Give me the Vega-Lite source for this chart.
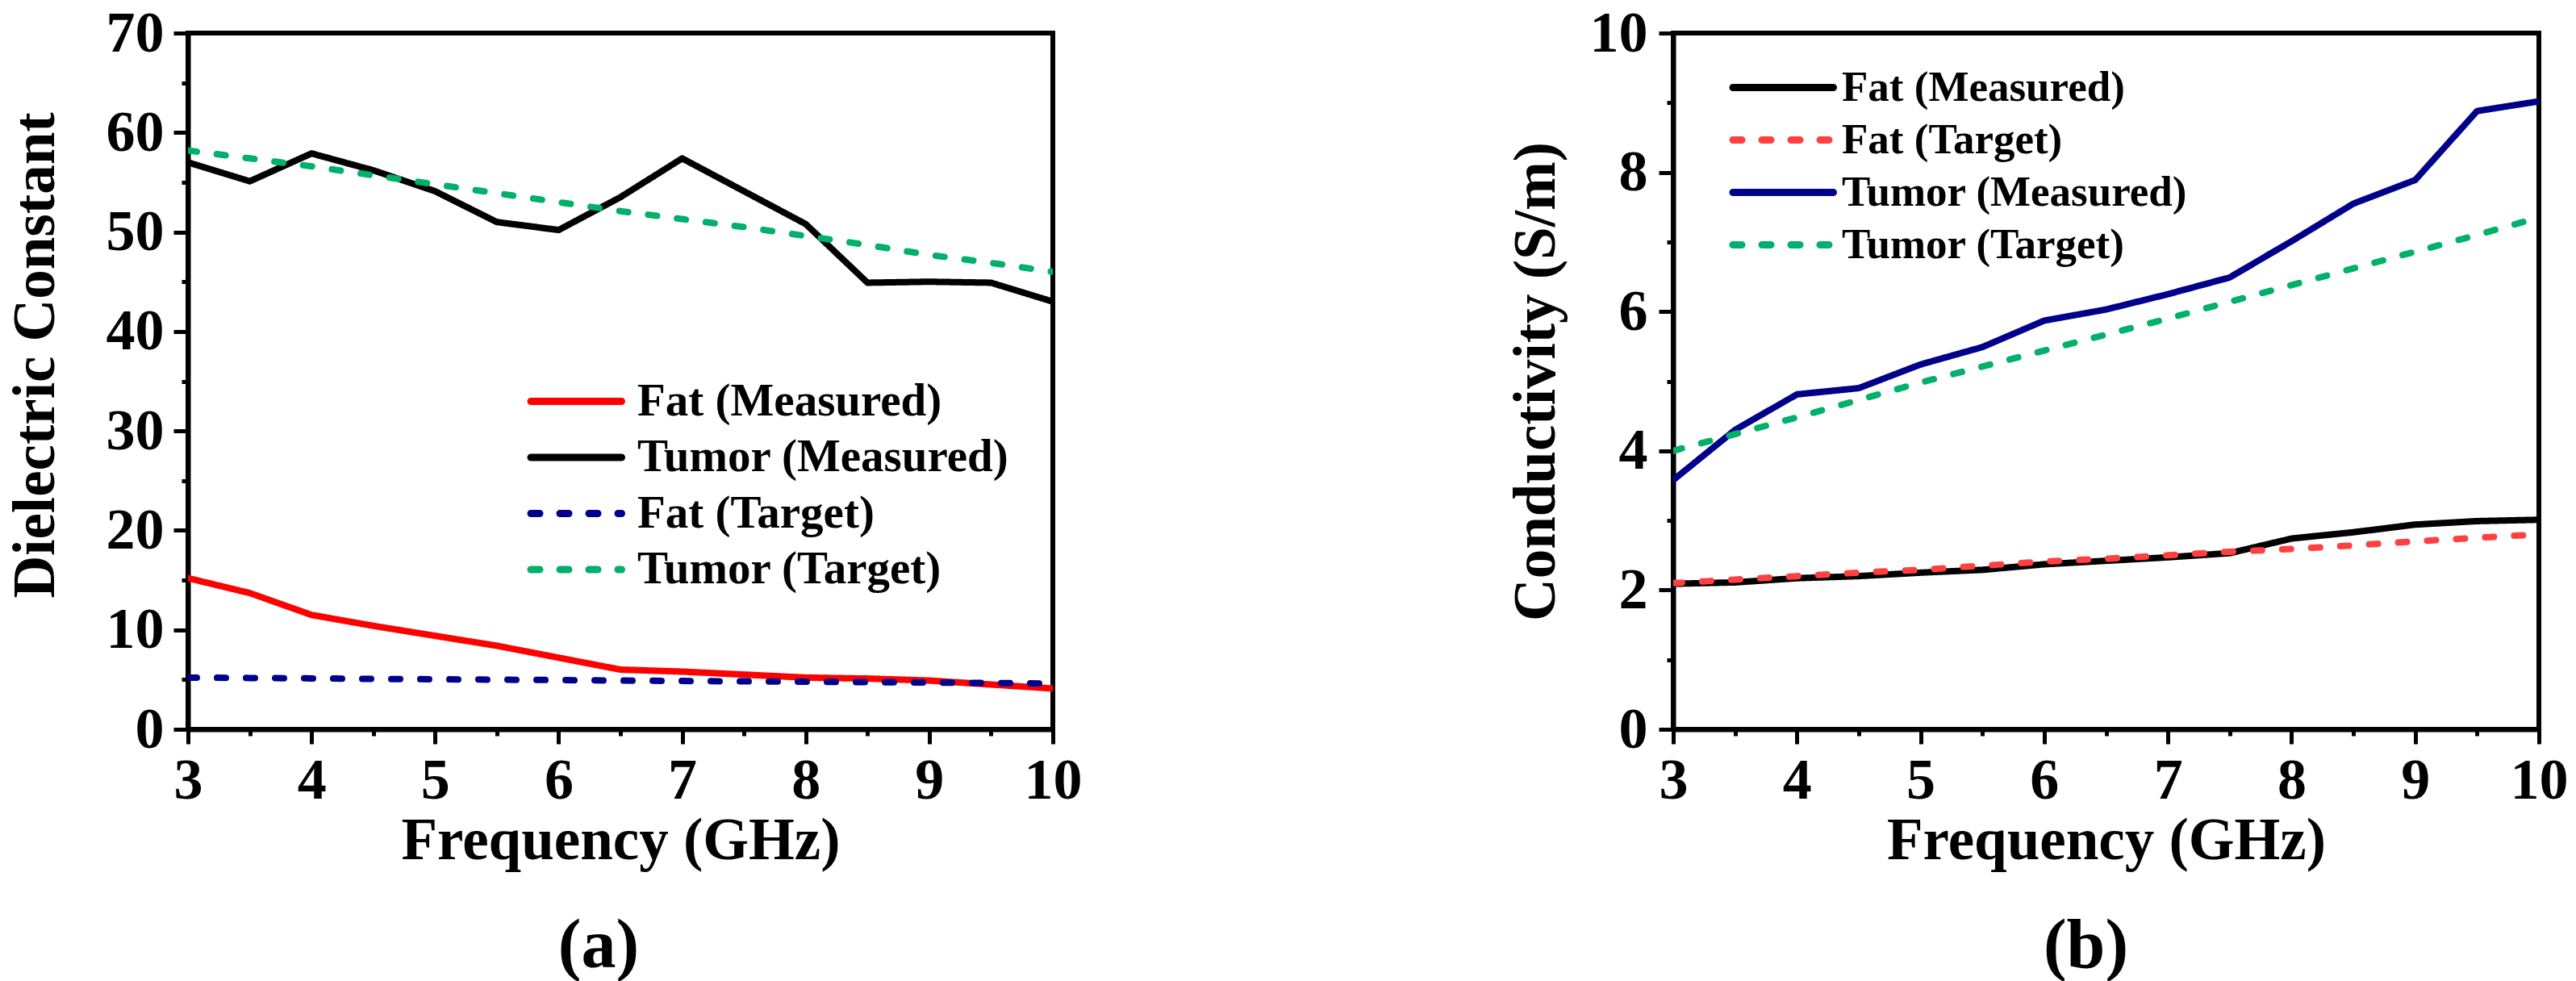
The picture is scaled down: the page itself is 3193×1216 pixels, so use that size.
{
  "$schema": "https://vega.github.io/schema/vega-lite/v6.json",
  "background": "white",
  "padding": {"left": 5, "top": 2, "right": 0, "bottom": 0},
  "config": {
    "font": "Liberation Serif",
    "view": {"stroke": "black", "strokeWidth": 6},
    "axis": {
      "grid": false,
      "domainColor": "black",
      "domainWidth": 6,
      "tickColor": "black",
      "tickWidth": 5,
      "labelFont": "Liberation Serif",
      "labelFontSize": 72,
      "labelFontWeight": "bold",
      "labelColor": "black",
      "labelFlush": false,
      "labelOverlap": false,
      "labelBound": false,
      "titleFont": "Liberation Serif",
      "titleFontSize": 73,
      "titleFontWeight": "bold",
      "titleColor": "black"
    },
    "legend": {
      "orient": "none",
      "padding": 0,
      "labelFont": "Liberation Serif",
      "labelFontWeight": "bold",
      "labelColor": "black",
      "labelLimit": 0,
      "symbolStrokeWidth": 9,
      "symbolSize": 900
    },
    "title": {"font": "Liberation Serif", "fontWeight": "bold", "color": "black", "fontSize": 86}
  },
  "datasets": {
    "dielectric": [
      {"freq": 3, "value": 15.2, "series": "Fat (Measured)"},
      {"freq": 3.5, "value": 13.7, "series": "Fat (Measured)"},
      {"freq": 4, "value": 11.5, "series": "Fat (Measured)"},
      {"freq": 4.5, "value": 10.4, "series": "Fat (Measured)"},
      {"freq": 5, "value": 9.4, "series": "Fat (Measured)"},
      {"freq": 5.5, "value": 8.4, "series": "Fat (Measured)"},
      {"freq": 6, "value": 7.2, "series": "Fat (Measured)"},
      {"freq": 6.5, "value": 6.0, "series": "Fat (Measured)"},
      {"freq": 7, "value": 5.8, "series": "Fat (Measured)"},
      {"freq": 7.5, "value": 5.5, "series": "Fat (Measured)"},
      {"freq": 8, "value": 5.2, "series": "Fat (Measured)"},
      {"freq": 8.5, "value": 5.1, "series": "Fat (Measured)"},
      {"freq": 9, "value": 4.9, "series": "Fat (Measured)"},
      {"freq": 9.5, "value": 4.5, "series": "Fat (Measured)"},
      {"freq": 10, "value": 4.1, "series": "Fat (Measured)"},
      {"freq": 3, "value": 57.0, "series": "Tumor (Measured)"},
      {"freq": 3.5, "value": 55.1, "series": "Tumor (Measured)"},
      {"freq": 4, "value": 57.9, "series": "Tumor (Measured)"},
      {"freq": 4.5, "value": 56.2, "series": "Tumor (Measured)"},
      {"freq": 5, "value": 54.1, "series": "Tumor (Measured)"},
      {"freq": 5.5, "value": 51.0, "series": "Tumor (Measured)"},
      {"freq": 6, "value": 50.2, "series": "Tumor (Measured)"},
      {"freq": 6.5, "value": 53.5, "series": "Tumor (Measured)"},
      {"freq": 7, "value": 57.4, "series": "Tumor (Measured)"},
      {"freq": 7.5, "value": 54.1, "series": "Tumor (Measured)"},
      {"freq": 8, "value": 50.8, "series": "Tumor (Measured)"},
      {"freq": 8.5, "value": 44.9, "series": "Tumor (Measured)"},
      {"freq": 9, "value": 45.0, "series": "Tumor (Measured)"},
      {"freq": 9.5, "value": 44.9, "series": "Tumor (Measured)"},
      {"freq": 10, "value": 43.0, "series": "Tumor (Measured)"},
      {"freq": 3, "value": 5.2, "series": "Fat (Target)"},
      {"freq": 3.5, "value": 5.16, "series": "Fat (Target)"},
      {"freq": 4, "value": 5.12, "series": "Fat (Target)"},
      {"freq": 4.5, "value": 5.07, "series": "Fat (Target)"},
      {"freq": 5, "value": 5.03, "series": "Fat (Target)"},
      {"freq": 5.5, "value": 4.99, "series": "Fat (Target)"},
      {"freq": 6, "value": 4.95, "series": "Fat (Target)"},
      {"freq": 6.5, "value": 4.9, "series": "Fat (Target)"},
      {"freq": 7, "value": 4.86, "series": "Fat (Target)"},
      {"freq": 7.5, "value": 4.82, "series": "Fat (Target)"},
      {"freq": 8, "value": 4.78, "series": "Fat (Target)"},
      {"freq": 8.5, "value": 4.74, "series": "Fat (Target)"},
      {"freq": 9, "value": 4.7, "series": "Fat (Target)"},
      {"freq": 9.5, "value": 4.65, "series": "Fat (Target)"},
      {"freq": 10, "value": 4.6, "series": "Fat (Target)"},
      {"freq": 3, "value": 58.2, "series": "Tumor (Target)"},
      {"freq": 3.5, "value": 57.4, "series": "Tumor (Target)"},
      {"freq": 4, "value": 56.6, "series": "Tumor (Target)"},
      {"freq": 4.5, "value": 55.7, "series": "Tumor (Target)"},
      {"freq": 5, "value": 54.8, "series": "Tumor (Target)"},
      {"freq": 5.5, "value": 53.9, "series": "Tumor (Target)"},
      {"freq": 6, "value": 53.0, "series": "Tumor (Target)"},
      {"freq": 6.5, "value": 52.1, "series": "Tumor (Target)"},
      {"freq": 7, "value": 51.3, "series": "Tumor (Target)"},
      {"freq": 7.5, "value": 50.5, "series": "Tumor (Target)"},
      {"freq": 8, "value": 49.6, "series": "Tumor (Target)"},
      {"freq": 8.5, "value": 48.7, "series": "Tumor (Target)"},
      {"freq": 9, "value": 47.7, "series": "Tumor (Target)"},
      {"freq": 9.5, "value": 46.9, "series": "Tumor (Target)"},
      {"freq": 10, "value": 46.0, "series": "Tumor (Target)"}
    ],
    "conductivity": [
      {"freq": 3, "value": 2.09, "series": "Fat (Measured)"},
      {"freq": 3.5, "value": 2.11, "series": "Fat (Measured)"},
      {"freq": 4, "value": 2.17, "series": "Fat (Measured)"},
      {"freq": 4.5, "value": 2.2, "series": "Fat (Measured)"},
      {"freq": 5, "value": 2.25, "series": "Fat (Measured)"},
      {"freq": 5.5, "value": 2.29, "series": "Fat (Measured)"},
      {"freq": 6, "value": 2.37, "series": "Fat (Measured)"},
      {"freq": 6.5, "value": 2.42, "series": "Fat (Measured)"},
      {"freq": 7, "value": 2.47, "series": "Fat (Measured)"},
      {"freq": 7.5, "value": 2.53, "series": "Fat (Measured)"},
      {"freq": 8, "value": 2.74, "series": "Fat (Measured)"},
      {"freq": 8.5, "value": 2.83, "series": "Fat (Measured)"},
      {"freq": 9, "value": 2.94, "series": "Fat (Measured)"},
      {"freq": 9.5, "value": 2.99, "series": "Fat (Measured)"},
      {"freq": 10, "value": 3.01, "series": "Fat (Measured)"},
      {"freq": 3, "value": 3.58, "series": "Tumor (Measured)"},
      {"freq": 3.5, "value": 4.3, "series": "Tumor (Measured)"},
      {"freq": 4, "value": 4.81, "series": "Tumor (Measured)"},
      {"freq": 4.5, "value": 4.9, "series": "Tumor (Measured)"},
      {"freq": 5, "value": 5.24, "series": "Tumor (Measured)"},
      {"freq": 5.5, "value": 5.49, "series": "Tumor (Measured)"},
      {"freq": 6, "value": 5.87, "series": "Tumor (Measured)"},
      {"freq": 6.5, "value": 6.03, "series": "Tumor (Measured)"},
      {"freq": 7, "value": 6.25, "series": "Tumor (Measured)"},
      {"freq": 7.5, "value": 6.49, "series": "Tumor (Measured)"},
      {"freq": 8, "value": 7.01, "series": "Tumor (Measured)"},
      {"freq": 8.5, "value": 7.55, "series": "Tumor (Measured)"},
      {"freq": 9, "value": 7.89, "series": "Tumor (Measured)"},
      {"freq": 9.5, "value": 8.88, "series": "Tumor (Measured)"},
      {"freq": 10, "value": 9.02, "series": "Tumor (Measured)"},
      {"freq": 3, "value": 2.1, "series": "Fat (Target)"},
      {"freq": 3.5, "value": 2.15, "series": "Fat (Target)"},
      {"freq": 4, "value": 2.2, "series": "Fat (Target)"},
      {"freq": 4.5, "value": 2.25, "series": "Fat (Target)"},
      {"freq": 5, "value": 2.29, "series": "Fat (Target)"},
      {"freq": 5.5, "value": 2.35, "series": "Fat (Target)"},
      {"freq": 6, "value": 2.41, "series": "Fat (Target)"},
      {"freq": 6.5, "value": 2.45, "series": "Fat (Target)"},
      {"freq": 7, "value": 2.5, "series": "Fat (Target)"},
      {"freq": 7.5, "value": 2.55, "series": "Fat (Target)"},
      {"freq": 8, "value": 2.59, "series": "Fat (Target)"},
      {"freq": 8.5, "value": 2.64, "series": "Fat (Target)"},
      {"freq": 9, "value": 2.7, "series": "Fat (Target)"},
      {"freq": 9.5, "value": 2.75, "series": "Fat (Target)"},
      {"freq": 10, "value": 2.8, "series": "Fat (Target)"},
      {"freq": 3, "value": 4.0, "series": "Tumor (Target)"},
      {"freq": 3.5, "value": 4.24, "series": "Tumor (Target)"},
      {"freq": 4, "value": 4.48, "series": "Tumor (Target)"},
      {"freq": 4.5, "value": 4.73, "series": "Tumor (Target)"},
      {"freq": 5, "value": 4.98, "series": "Tumor (Target)"},
      {"freq": 5.5, "value": 5.21, "series": "Tumor (Target)"},
      {"freq": 6, "value": 5.44, "series": "Tumor (Target)"},
      {"freq": 6.5, "value": 5.67, "series": "Tumor (Target)"},
      {"freq": 7, "value": 5.9, "series": "Tumor (Target)"},
      {"freq": 7.5, "value": 6.14, "series": "Tumor (Target)"},
      {"freq": 8, "value": 6.38, "series": "Tumor (Target)"},
      {"freq": 8.5, "value": 6.62, "series": "Tumor (Target)"},
      {"freq": 9, "value": 6.86, "series": "Tumor (Target)"},
      {"freq": 9.5, "value": 7.1, "series": "Tumor (Target)"},
      {"freq": 10, "value": 7.35, "series": "Tumor (Target)"}
    ]
  },
  "bounds": "flush",
  "spacing": 769,
  "resolve": {
    "scale": {"x": "independent", "y": "independent", "color": "independent", "strokeDash": "independent"},
    "legend": {"color": "independent", "strokeDash": "independent"}
  },
  "hconcat": [
    {
      "width": 1072,
      "height": 863,
      "data": {"name": "dielectric"},
      "title": {"text": "(a)", "orient": "bottom", "dx": -27, "offset": 52},
      "mark": {"type": "line", "strokeWidth": 8, "strokeCap": "round", "strokeJoin": "round", "clip": true},
      "encoding": {
        "x": {
          "field": "freq", "type": "quantitative",
          "scale": {"domain": [3, 10], "nice": false, "zero": false},
          "axis": {
            "title": "Frequency (GHz)",
            "values": [3, 3.5, 4, 4.5, 5, 5.5, 6, 6.5, 7, 7.5, 8, 8.5, 9, 9.5, 10],
            "labelExpr": "datum.value % 1 === 0 ? format(datum.value, 'd') : ''",
            "tickSize": {"condition": {"test": "datum.value % 1 !== 0", "value": 8}, "value": 18},
            "labelPadding": 10,
            "titlePadding": 3
          }
        },
        "y": {
          "field": "value", "type": "quantitative",
          "scale": {"domain": [0, 70], "nice": false},
          "axis": {
            "title": "Dielectric Constant",
            "values": [0, 5, 10, 15, 20, 25, 30, 35, 40, 45, 50, 55, 60, 65, 70],
            "labelExpr": "datum.value % 10 === 0 ? format(datum.value, 'd') : ''",
            "tickSize": {"condition": {"test": "datum.value % 10 !== 0", "value": 8}, "value": 18},
            "labelPadding": 12,
            "titlePadding": 50,
            "titleY": 399
          }
        },
        "color": {
          "field": "series", "type": "nominal",
          "scale": {
            "domain": ["Fat (Measured)", "Tumor (Measured)", "Fat (Target)", "Tumor (Target)"],
            "range": ["#ff0000", "#000000", "#00008b", "#00b06b"]
          },
          "legend": {
            "title": null,
            "legendX": 494,
            "legendY": 428,
            "labelFontSize": 57,
            "labelOffset": 6,
            "rowPadding": 11.5,
            "symbolType": "M-6.5,0H1",
            "encode": {"symbols": {"update": {"strokeCap": {"value": "round"}}}}
          }
        },
        "strokeDash": {
          "field": "series", "type": "nominal",
          "scale": {
            "domain": ["Fat (Measured)", "Tumor (Measured)", "Fat (Target)", "Tumor (Target)"],
            "range": [[1, 0], [1, 0], [11, 25], [11, 25]]
          },
          "legend": {
            "title": null,
            "legendX": 494,
            "legendY": 428,
            "labelFontSize": 57,
            "labelOffset": 6,
            "rowPadding": 11.5,
            "symbolType": "M-6.5,0H1",
            "encode": {"symbols": {"update": {"strokeCap": {"value": "round"}}}}
          }
        }
      }
    },
    {
      "width": 1073,
      "height": 863,
      "data": {"name": "conductivity"},
      "title": {"text": "(b)", "orient": "bottom", "dx": -25, "offset": 52},
      "mark": {"type": "line", "strokeWidth": 8, "strokeCap": "round", "strokeJoin": "round", "clip": true},
      "encoding": {
        "x": {
          "field": "freq", "type": "quantitative",
          "scale": {"domain": [3, 10], "nice": false, "zero": false},
          "axis": {
            "title": "Frequency (GHz)",
            "values": [3, 3.5, 4, 4.5, 5, 5.5, 6, 6.5, 7, 7.5, 8, 8.5, 9, 9.5, 10],
            "labelExpr": "datum.value % 1 === 0 ? format(datum.value, 'd') : ''",
            "tickSize": {"condition": {"test": "datum.value % 1 !== 0", "value": 8}, "value": 18},
            "labelPadding": 10,
            "titlePadding": 3
          }
        },
        "y": {
          "field": "value", "type": "quantitative",
          "scale": {"domain": [0, 10], "nice": false},
          "axis": {
            "title": "Conductivity (S/m)",
            "values": [0, 1, 2, 3, 4, 5, 6, 7, 8, 9, 10],
            "labelExpr": "datum.value % 2 === 0 ? format(datum.value, 'd') : ''",
            "tickSize": {"condition": {"test": "datum.value % 2 !== 0", "value": 8}, "value": 18},
            "labelPadding": 14,
            "titlePadding": 29
          }
        },
        "color": {
          "field": "series", "type": "nominal",
          "scale": {
            "domain": ["Fat (Measured)", "Fat (Target)", "Tumor (Measured)", "Tumor (Target)"],
            "range": ["#000000", "#ff4040", "#00008b", "#00b06b"]
          },
          "legend": {
            "title": null,
            "legendX": 157,
            "legendY": 41,
            "labelFontSize": 53,
            "labelOffset": -1,
            "rowPadding": 11,
            "symbolType": "M-7.3,0H1",
            "encode": {"symbols": {"update": {"strokeCap": {"value": "round"}}}}
          }
        },
        "strokeDash": {
          "field": "series", "type": "nominal",
          "scale": {
            "domain": ["Fat (Measured)", "Fat (Target)", "Tumor (Measured)", "Tumor (Target)"],
            "range": [[1, 0], [11, 25], [1, 0], [11, 25]]
          },
          "legend": {
            "title": null,
            "legendX": 157,
            "legendY": 41,
            "labelFontSize": 53,
            "labelOffset": -1,
            "rowPadding": 11,
            "symbolType": "M-7.3,0H1",
            "encode": {"symbols": {"update": {"strokeCap": {"value": "round"}}}}
          }
        }
      }
    }
  ]
}
